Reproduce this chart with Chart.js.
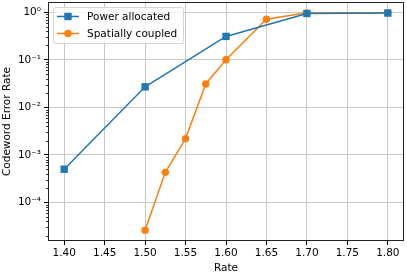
<!DOCTYPE html>
<html>
<head>
<meta charset="utf-8">
<script src="https://cdn.jsdelivr.net/npm/chart.js@4.4.1/dist/chart.umd.min.js"></script>
<style>
  html, body { margin: 0; padding: 0; background: #fff; }
  #wrap { width: 407px; height: 277px; }
</style>
</head>
<body>
<div id="wrap"><canvas id="chart" width="407" height="277"></canvas></div>
<script>
// data
const rateA = [1.40, 1.50, 1.60, 1.70, 1.80];
const powerAllocated = [5.0e-4, 2.7e-2, 0.31, 0.94, 0.96];
const rateB = [1.500, 1.525, 1.550, 1.575, 1.600, 1.650, 1.700, 1.800];
const spatiallyCoupled = [2.6e-5, 4.3e-4, 2.2e-3, 3.1e-2, 0.10, 0.71, 0.97, 0.98];

const xTicks = [1.40, 1.45, 1.50, 1.55, 1.60, 1.65, 1.70, 1.75, 1.80];
const yTicks = [1e-4, 1e-3, 1e-2, 1e-1, 1];
const seriesNames = ['Power allocated', 'Spatially coupled'];
const seriesColors = ['#1f77b4', '#ff7f0e'];

const SUP = {'-': '\u207B', '0': '\u2070', '1': '\u00B9', '2': '\u00B2', '3': '\u00B3',
  '4': '\u2074', '5': '\u2075', '6': '\u2076', '7': '\u2077', '8': '\u2078', '9': '\u2079'};
function powLabel(v) {
  var e = String(Math.round(Math.log10(v)));
  return '10' + e.split('').map(function (c) { return SUP[c]; }).join('');
}

Chart.defaults.font.family = 'DejaVu Sans';
Chart.defaults.font.size = 10.5;
Chart.defaults.color = '#000';

// frame, minor log ticks and the legend box, matplotlib style
const extras = {
  id: 'extras',
  afterDraw(chart) {
    const ctx = chart.ctx;
    const a = chart.chartArea;
    const y = chart.scales.y;
    ctx.save();

    // minor ticks on the log axis
    ctx.strokeStyle = '#000';
    ctx.lineWidth = 0.8;
    for (var d = -6; d <= 1; d++) {
      for (var k = 2; k <= 9; k++) {
        var v = k * Math.pow(10, d);
        if (v < y.min || v > y.max) continue;
        var py = Math.round(y.getPixelForValue(v)) + 0.5;
        ctx.beginPath();
        ctx.moveTo(a.left - 2, py);
        ctx.lineTo(a.left, py);
        ctx.stroke();
      }
    }

    // frame
    ctx.strokeStyle = '#222';
    ctx.lineWidth = 1;
    ctx.strokeRect(Math.round(a.left) + 0.5, Math.round(a.top) + 0.5,
      Math.round(a.right - a.left) - 1, Math.round(a.bottom - a.top) - 1);

    // legend
    var bx = a.left + 5, by = a.top + 5, bw = 130, bh = 36;
    ctx.beginPath();
    ctx.roundRect(bx + 0.5, by + 0.5, bw, bh, 2.5);
    ctx.fillStyle = 'rgba(255,255,255,0.8)';
    ctx.fill();
    ctx.strokeStyle = '#d6d6d6';
    ctx.stroke();
    ctx.font = '10.5px "DejaVu Sans"';
    ctx.textBaseline = 'middle';
    for (var i = 0; i < seriesNames.length; i++) {
      var ly = by + 9.5 + i * 17;
      var lx = bx + 4;
      ctx.strokeStyle = seriesColors[i];
      ctx.fillStyle = seriesColors[i];
      ctx.lineWidth = 1.5;
      ctx.beginPath();
      ctx.moveTo(lx, ly);
      ctx.lineTo(lx + 22, ly);
      ctx.stroke();
      if (i === 0) {
        ctx.fillRect(lx + 11 - 3.7, ly - 3.7, 7.4, 7.4);
      } else {
        ctx.beginPath();
        ctx.arc(lx + 11, ly, 3.7, 0, Math.PI * 2);
        ctx.fill();
      }
      ctx.fillStyle = '#000';
      ctx.fillText(seriesNames[i], lx + 30, ly + 0.5);
    }
    ctx.restore();
  }
};

new Chart(document.getElementById('chart').getContext('2d'), {
  type: 'line',
  data: {
    datasets: [{
      label: seriesNames[0],
      data: rateA.map(function (x, i) { return {x: x, y: powerAllocated[i]}; }),
      borderColor: seriesColors[0],
      backgroundColor: seriesColors[0],
      borderWidth: 1.5,
      pointStyle: 'rect',
      pointRadius: 5.2,
      pointBorderWidth: 0,
      fill: false,
      tension: 0
    }, {
      label: seriesNames[1],
      data: rateB.map(function (x, i) { return {x: x, y: spatiallyCoupled[i]}; }),
      borderColor: seriesColors[1],
      backgroundColor: seriesColors[1],
      borderWidth: 1.5,
      pointStyle: 'circle',
      pointRadius: 3.7,
      pointBorderWidth: 0,
      fill: false,
      tension: 0
    }]
  },
  options: {
    responsive: false,
    animation: false,
    layout: { padding: { left: 0, right: 3, top: 2, bottom: 0 }, autoPadding: false },
    plugins: { legend: { display: false }, tooltip: { enabled: false } },
    scales: {
      x: {
        type: 'linear',
        min: 1.38,
        max: 1.82,
        afterBuildTicks: function (s) { s.ticks = xTicks.map(function (v) { return {value: v}; }); },
        afterFit: function (s) { s.height = 36; s.paddingLeft = 0; s.paddingRight = 0; },
        ticks: {
          padding: 2,
          maxRotation: 0,
          callback: function (v) { return Number(v).toFixed(2); }
        },
        grid: { color: '#c8c8c8', lineWidth: 1, tickColor: '#000', tickLength: 4 },
        border: { display: false },
        title: { display: true, text: 'Rate', padding: { top: 0, bottom: 2 } }
      },
      y: {
        type: 'logarithmic',
        min: Math.pow(10, -4.81),
        max: Math.pow(10, 0.215),
        afterBuildTicks: function (s) { s.ticks = yTicks.map(function (v) { return {value: v}; }); },
        afterFit: function (s) { s.width = 48; s.paddingTop = 0; s.paddingBottom = 0; },
        ticks: {
          padding: 3,
          callback: function (v) { return powLabel(v); }
        },
        grid: { color: '#c8c8c8', lineWidth: 1, tickColor: '#000', tickLength: 4 },
        border: { display: false },
        title: { display: true, text: 'Codeword Error Rate', padding: { top: 1, bottom: 0 } }
      }
    }
  },
  plugins: [extras]
});
</script>
</body>
</html>
